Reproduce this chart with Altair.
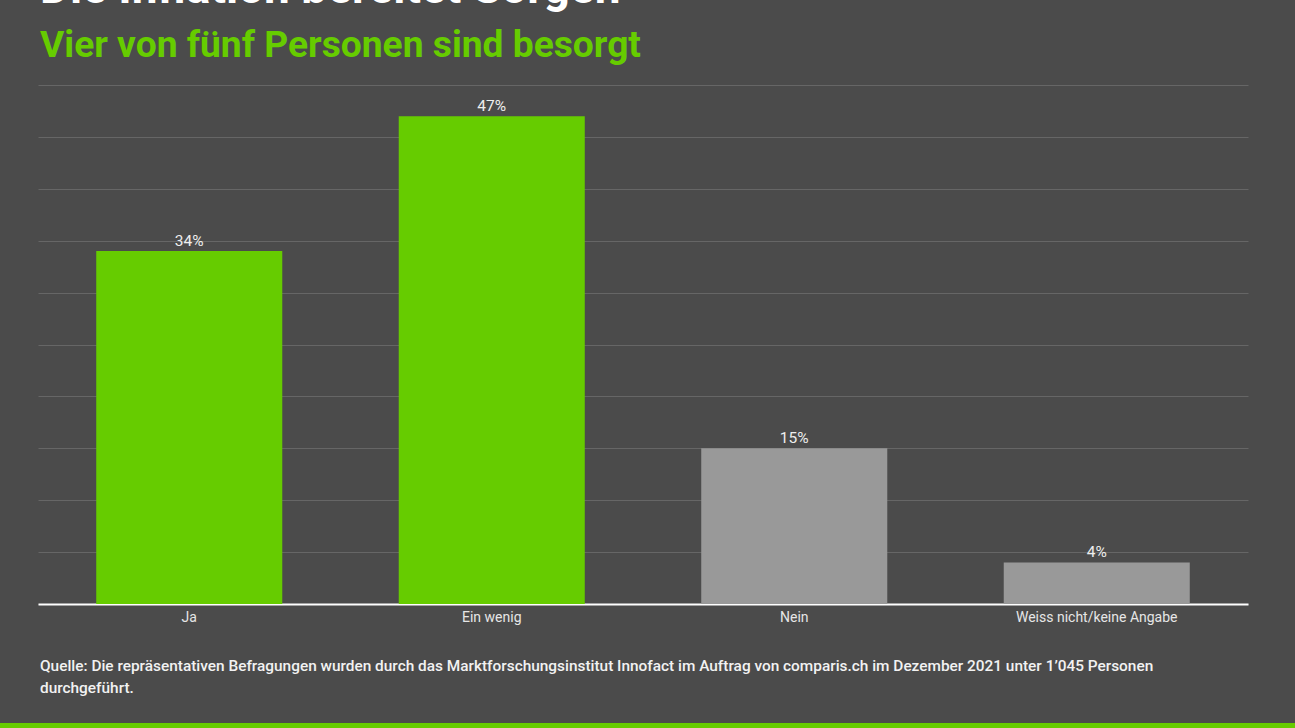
import altair as alt
import pandas as pd

# Survey answers and their shares (percent)
categories = ["Ja", "Ein wenig", "Nein", "Weiss nicht/keine Angabe"]
shares = [34, 47, 15, 4]
bar_colors = ["#66cc00", "#66cc00", "#999999", "#999999"]

title_text = "Die Inflation bereitet Sorgen"
subtitle_text = "Vier von fünf Personen sind besorgt"
source_lines = [
    "Quelle: Die repräsentativen Befragungen wurden durch das Marktforschungsinstitut Innofact im Auftrag von comparis.ch im Dezember 2021 unter 1\u2019045 Personen",
    "durchgeführt.",
]

BG = "#4b4b4b"
GREEN = "#66cc00"
FONT = "Roboto"

df = pd.DataFrame({"Antwort": categories, "Anteil": shares, "Farbe": bar_colors})
df["Label"] = df["Anteil"].astype(str) + "%"

x_enc = alt.X(
    "Antwort:N",
    sort=categories,
    scale=alt.Scale(paddingInner=0.385, paddingOuter=0.1925),
    axis=alt.Axis(
        title=None,
        labelAngle=0,
        labelColor="#e6e6e6",
        labelFont=FONT,
        labelFontSize=14,
        labelPadding=6,
        ticks=False,
        domainColor="#ffffff",
        domainWidth=2,
    ),
)
y_scale = alt.Scale(domain=[0, 50], nice=False)

bars = alt.Chart(df).mark_bar().encode(
    x=x_enc,
    y=alt.Y(
        "Anteil:Q",
        scale=y_scale,
        axis=alt.Axis(
            title=None,
            labels=False,
            ticks=False,
            domain=False,
            grid=True,
            gridColor="#666666",
            gridWidth=1,
            values=list(range(0, 51, 5)),
        ),
    ),
    color=alt.Color("Farbe:N", scale=None),
)

values = alt.Chart(df).mark_text(
    dy=-10, font=FONT, fontSize=15.5, color="#eeeeee"
).encode(
    x=alt.X("Antwort:N", sort=categories),
    y=alt.Y("Anteil:Q", scale=y_scale),
    text="Label:N",
)

# Heading, subheading and source note placed in pixels relative to the plot area
head = pd.DataFrame({
    "t": [title_text, subtitle_text, source_lines[0], source_lines[1]],
    "y": [-82, -28, 581, 603],
    "size": [46, 37.2, 15.4, 15.4],
    "col": ["#ffffff", GREEN, "#f2f2f2", "#f2f2f2"],
})

def text_layer(i, weight):
    row = head.iloc[[i]]
    return alt.Chart(row).mark_text(
        align="left",
        baseline="alphabetic" if i < 2 else "middle",
        font=FONT,
        fontWeight=weight,
        fontSize=float(row["size"].iloc[0]),
        color=row["col"].iloc[0],
    ).encode(
        x=alt.value(2),
        y=alt.value(float(row["y"].iloc[0])),
        text="t:N",
    )

title = text_layer(0, "bold")
subtitle = text_layer(1, "bold")
src1 = text_layer(2, 500)
src2 = text_layer(3, 500)

strip = alt.Chart(pd.DataFrame({"a": [0]})).mark_rect(color=GREEN).encode(
    x=alt.value(-40), x2=alt.value(1260), y=alt.value(638), y2=alt.value(645)
)

chart = alt.layer(bars, values, title, subtitle, src1, src2, strip).properties(
    width=1210,
    height=519,
    background=BG,
    padding={"left": 38, "top": 85, "right": 47, "bottom": 124},
    autosize=alt.AutoSizeParams(type="none"),
).configure_view(stroke=None)

chart.save("out.html", embed_options={"renderer": "svg", "actions": False})
